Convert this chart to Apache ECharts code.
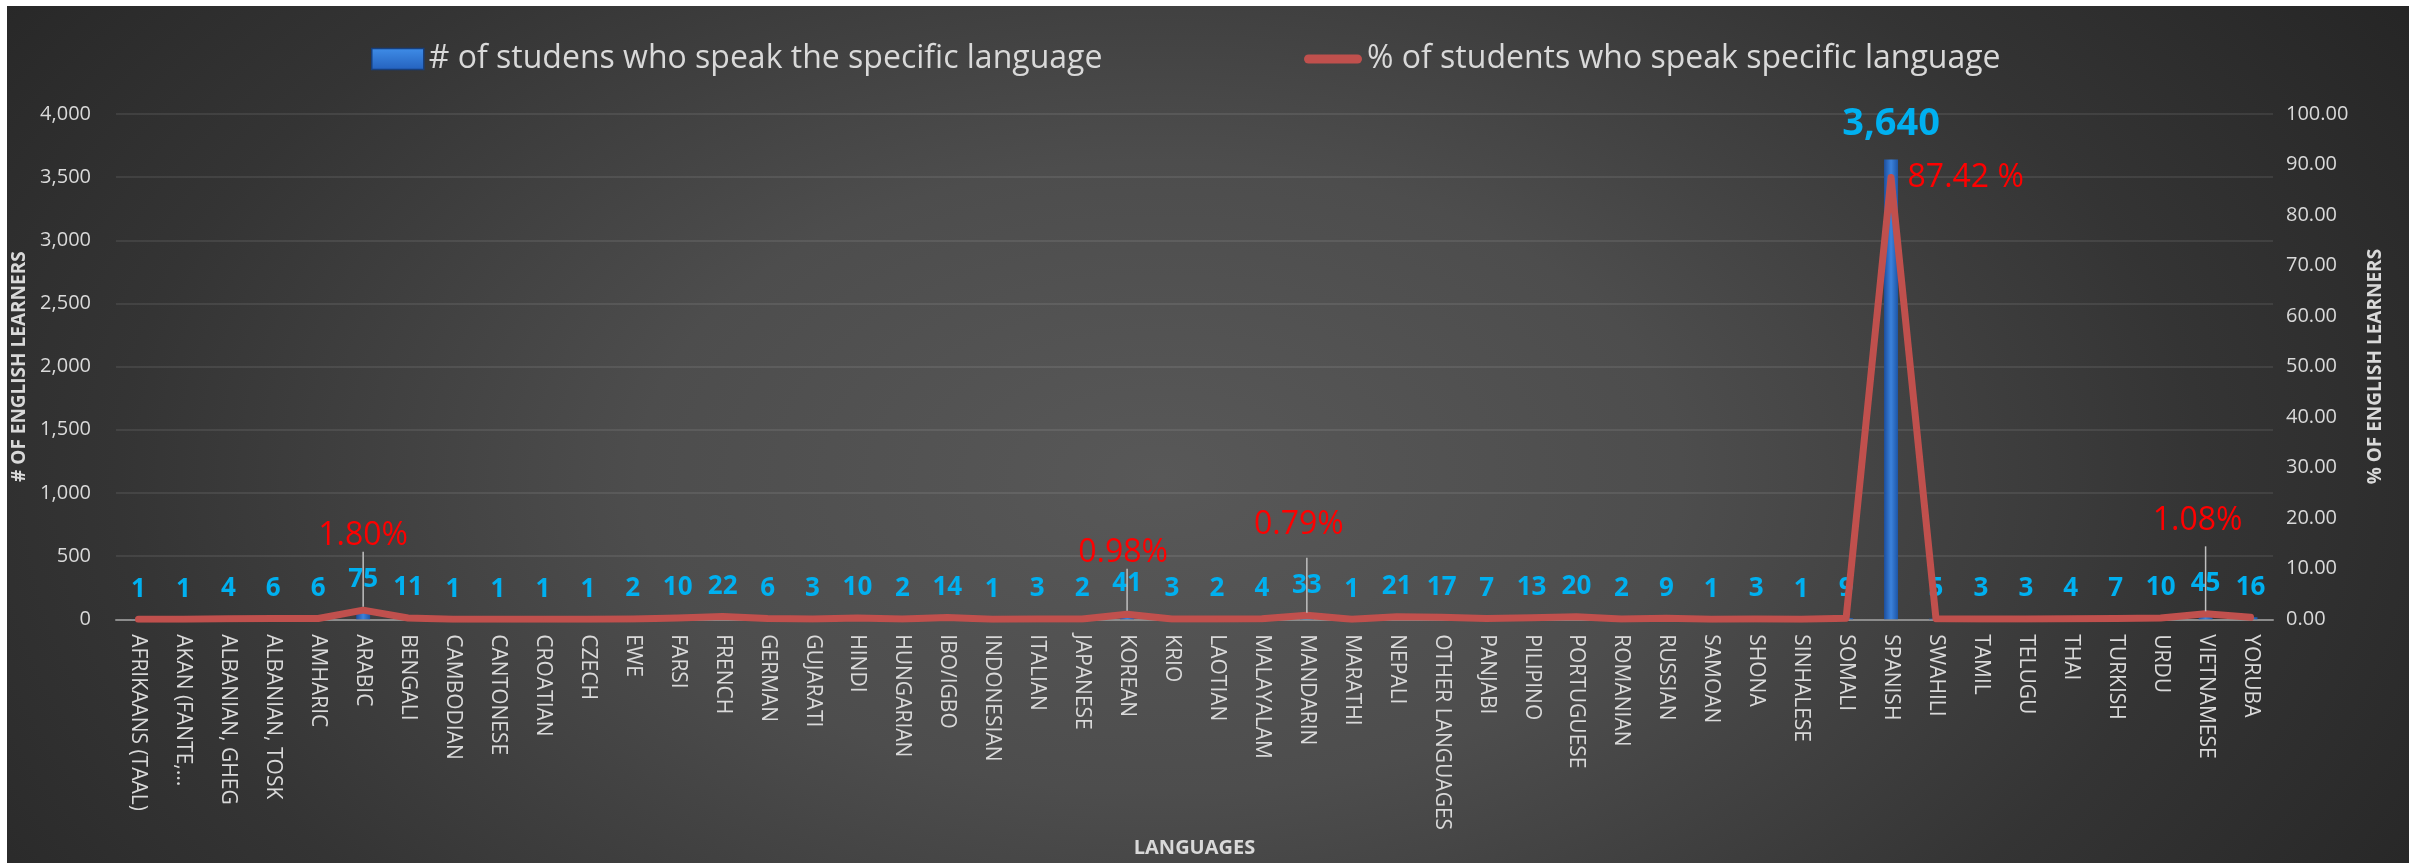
<!DOCTYPE html>
<html><head><meta charset="utf-8">
<script src="https://cdn.jsdelivr.net/npm/echarts@6/dist/echarts.min.js"></script>
<style>
html,body{margin:0;padding:0;background:#fff;width:2420px;height:863px;overflow:hidden}
#bg{position:absolute;left:7px;top:6px;width:2402px;height:857px;background:radial-gradient(ellipse 62% 105% at 48% 55%, #585858 0%, #4d4d4d 35%, #343434 70%, #252525 100%);}
#chart{position:absolute;left:0;top:0;width:2420px;height:863px}
</style></head><body><div id="bg"></div><div id="chart"></div>
<script>
const categories = ['AFRIKAANS (TAAL)','AKAN (FANTE,...','ALBANIAN, GHEG','ALBANIAN, TOSK','AMHARIC','ARABIC','BENGALI','CAMBODIAN','CANTONESE','CROATIAN','CZECH','EWE','FARSI','FRENCH','GERMAN','GUJARATI','HINDI','HUNGARIAN','IBO/IGBO','INDONESIAN','ITALIAN','JAPANESE','KOREAN','KRIO','LAOTIAN','MALAYALAM','MANDARIN','MARATHI','NEPALI','OTHER LANGUAGES','PANJABI','PILIPINO','PORTUGUESE','ROMANIAN','RUSSIAN','SAMOAN','SHONA','SINHALESE','SOMALI','SPANISH','SWAHILI','TAMIL','TELUGU','THAI','TURKISH','URDU','VIETNAMESE','YORUBA'];
const learners = [1,1,4,6,6,75,11,1,1,1,1,2,10,22,6,3,10,2,14,1,3,2,41,3,2,4,33,1,21,17,7,13,20,2,9,1,3,1,9,3640,5,3,3,4,7,10,45,16];
const percentages = [0.02,0.02,0.10,0.14,0.14,1.80,0.26,0.02,0.02,0.02,0.02,0.05,0.24,0.53,0.14,0.07,0.24,0.05,0.34,0.02,0.07,0.05,0.98,0.07,0.05,0.10,0.79,0.02,0.50,0.41,0.17,0.31,0.48,0.05,0.22,0.02,0.07,0.02,0.22,87.42,0.12,0.07,0.07,0.10,0.17,0.24,1.08,0.38];
const pctLabelIndex = [5,22,26,39,46];
const pctLabelText = ['1.80%','0.98%','0.79%','87.42 %','1.08%'];
const leftAxisRange = [0,4000,500];
const rightAxisRange = [0,100,10];
const seriesNames = ['# of studens who speak the specific language','% of students who speak specific language'];
const axisTitles = ['LANGUAGES','# OF ENGLISH LEARNERS','% OF ENGLISH LEARNERS'];

const FONT = 'Open Sans';
const TXT = '#D9D9D9';

// label placement (styling): shift = text shift left in px, gap = space between text and leader, lead = leader length
const pctLayout = {
  5:  {shift:0,  gap:0,  lead:55, distance:3},
  22: {shift:4,  gap:0,  lead:42, distance:3},
  26: {shift:8,  gap:17, lead:55, distance:2},
  39: {right:true},
  46: {shift:8,  gap:9,  lead:65, distance:2}
};

const barData = learners.map((v,i)=> v === Math.max(...learners)
  ? {value:v, label:{fontSize:38, distance:16}} : v);

function pctLabel(i, text){
  const L = pctLayout[i];
  if (L.right) {
    return {show:true, position:'right', distance:16, formatter:text, color:'#FF0000', fontSize:32, fontFamily:FONT};
  }
  let f = '{t|' + text + '}';
  if (L.gap > 0) f += '\n{g|}';
  f += '\n' + (L.shift > 0 ? '{s|}' : '') + '{l|}';
  return {
    show:true, position:'top', distance:L.distance, offset:[-L.shift,0], formatter:f,
    rich:{
      t:{color:'#FF0000', fontSize:32, lineHeight:32, fontFamily:FONT},
      g:{width:1, height:L.gap, lineHeight:L.gap},
      s:{width:L.shift*2, height:L.lead, lineHeight:L.lead},
      l:{width:1.5, height:L.lead, lineHeight:L.lead, backgroundColor:'#BFBFBF'}
    }
  };
}

const lineData = percentages.map((v,i)=>{
  const k = pctLabelIndex.indexOf(i);
  if (k < 0) return v;
  return {value:v, label:pctLabel(i, pctLabelText[k])};
});

const chart = echarts.init(document.getElementById('chart'));
chart.setOption({
  backgroundColor:'transparent',
  animation:false,
  textStyle:{fontFamily:FONT},
  legend:[
    {left:366, top:38, itemWidth:52, itemHeight:21,
     textStyle:{color:TXT, fontSize:32, fontFamily:FONT},
     data:[{name:seriesNames[0], icon:'rect',
       itemStyle:{color:{type:'linear',x:0,y:0,x2:0,y2:1,colorStops:[{offset:0,color:'#3f8de8'},{offset:1,color:'#2461bd'}]},
                  borderColor:'#173f7c', borderWidth:1.5}}]},
    {left:1299, top:38, itemWidth:58, itemHeight:9,
     textStyle:{color:TXT, fontSize:32, fontFamily:FONT},
     data:[{name:seriesNames[1], icon:'path://M4.5 0H53.5A4.5 4.5 0 0 1 53.5 9H4.5A4.5 4.5 0 0 1 4.5 0Z',
       itemStyle:{color:'#C0504D'}}]}
  ],
  grid:{left:116, right:147, top:114, bottom:240, containLabel:false},
  xAxis:{
    type:'category', data:categories,
    axisLine:{lineStyle:{color:'#8C8C8C', width:2}},
    axisTick:{show:false},
    axisLabel:{interval:0, rotate:-90, margin:15, color:TXT, fontSize:21, fontFamily:FONT},
    name:axisTitles[0], nameLocation:'middle', nameGap:195,
    nameTextStyle:{color:TXT, fontSize:20, fontWeight:'bold', fontFamily:FONT}
  },
  yAxis:[
    {type:'value', min:leftAxisRange[0], max:leftAxisRange[1], interval:leftAxisRange[2],
     axisLine:{show:false}, axisTick:{show:false},
     splitLine:{lineStyle:{color:'rgba(255,255,255,0.11)', width:1.5}},
     axisLabel:{color:TXT, fontSize:20, margin:25, fontFamily:FONT, formatter:v=>v.toLocaleString('en-US')},
     name:axisTitles[1], nameLocation:'middle', nameGap:78, nameRotate:90,
     nameTextStyle:{color:TXT, fontSize:19, fontWeight:'bold', fontFamily:FONT}},
    {type:'value', min:rightAxisRange[0], max:rightAxisRange[1], interval:rightAxisRange[2],
     axisLine:{show:false}, axisTick:{show:false}, splitLine:{show:false},
     axisLabel:{color:TXT, fontSize:20, margin:13, fontFamily:FONT, formatter:v=>v.toFixed(2)},
     name:axisTitles[2], nameLocation:'middle', nameGap:93, nameRotate:90,
     nameTextStyle:{color:TXT, fontSize:19, fontWeight:'bold', fontFamily:FONT}}
  ],
  series:[
    {name:seriesNames[0], type:'bar', yAxisIndex:0, barWidth:14, data:barData,
     itemStyle:{color:{type:'linear',x:0,y:0,x2:1,y2:0,colorStops:[{offset:0,color:'#1d4f9e'},{offset:0.5,color:'#3b82dc'},{offset:1,color:'#1d55a6'}]}},
     label:{show:true, position:'top', distance:17, color:'#00B0F0', fontSize:26, fontWeight:'bold', fontFamily:FONT,
            formatter:p=>p.value.toLocaleString('en-US')}},
    {name:seriesNames[1], type:'line', yAxisIndex:1, data:lineData,
     symbol:'circle', symbolSize:1, showSymbol:true,
     itemStyle:{color:'#C0504D'},
     lineStyle:{color:'#C0504D', width:7, cap:'round', join:'round'},
     label:{show:false},
     z:3}
  ]
});
</script></body></html>
